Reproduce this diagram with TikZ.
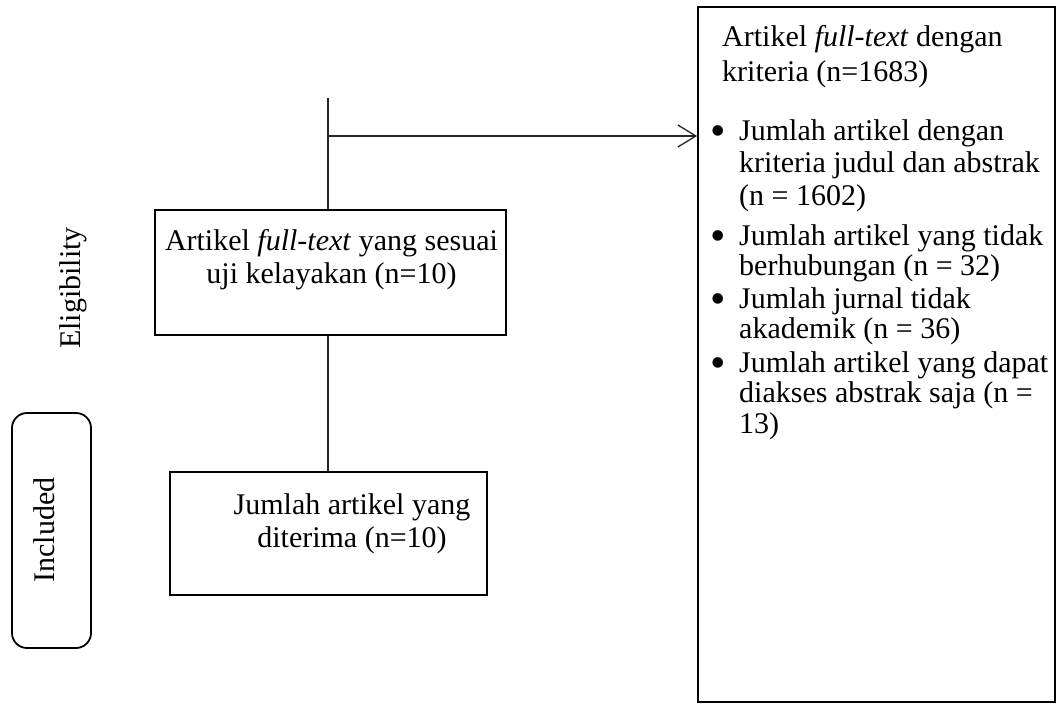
\documentclass[tikz,border=0pt]{standalone}
\usepackage{fontspec}
\setmainfont{Liberation Serif}
\usetikzlibrary{arrows.meta}
\begin{document}
\begin{tikzpicture}[x=1pt,y=-1pt,
  every node/.style={font=\fontsize{30}{33}\selectfont},
  box/.style={draw, line width=1.8pt, rectangle, inner sep=0pt},
  conn/.style={line width=1.3pt, draw=black!85},
  txt/.style={anchor=base, inner sep=0pt},
  ltxt/.style={anchor=base west, inner sep=0pt},
  bul/.style={anchor=base, inner sep=0pt, font=\fontsize{44}{44}\selectfont}]
\useasboundingbox (0,0) rectangle (1060,704);
% boxes
\node[box, minimum width=351pt, minimum height=125pt] (b1) at (330.5,272.5) {};
\node[box, minimum width=317pt, minimum height=123pt] (b2) at (328.5,533.5) {};
\node[box, minimum width=357pt, minimum height=695pt] (b3) at (876.5,354.5) {};
\node[box, rounded corners=15pt, minimum width=79pt, minimum height=235pt] (inc) at (51.5,530.5) {};
% texts
\node[txt] (t1) at (331.5,250) {\begin{tabular}[t]{@{}c@{}}Artikel \textit{full-text} yang sesuai\\uji kelayakan (n=10)\end{tabular}};
\node[txt] (t2) at (352,514) {\begin{tabular}[t]{@{}c@{}}Jumlah artikel yang\\diterima (n=10)\end{tabular}};
\node[ltxt] (t3) at (722,46) {\fontsize{30}{35}\selectfont\begin{tabular}[t]{@{}l@{}}Artikel \textit{full-text} dengan\\kriteria (n=1683)\end{tabular}};
\node[bul] (bu1) at (718,145) {\textbullet};
\node[ltxt] (i1) at (739,140) {\fontsize{30}{32.5}\selectfont\begin{tabular}[t]{@{}l@{}}Jumlah artikel dengan\\kriteria judul dan abstrak\\(n = 1602)\end{tabular}};
\node[bul] (bu2) at (718,250) {\textbullet};
\node[ltxt] (i2) at (739,245) {\fontsize{30}{30.5}\selectfont\begin{tabular}[t]{@{}l@{}}Jumlah artikel yang tidak\\berhubungan (n = 32)\end{tabular}};
\node[bul] (bu3) at (718,313) {\textbullet};
\node[ltxt] (i3) at (739,308) {\fontsize{30}{30.5}\selectfont\begin{tabular}[t]{@{}l@{}}Jumlah jurnal tidak\\akademik (n = 36)\end{tabular}};
\node[bul] (bu4) at (718,377) {\textbullet};
\node[ltxt] (i4) at (739,372) {\fontsize{30}{30.5}\selectfont\begin{tabular}[t]{@{}l@{}}Jumlah artikel yang dapat\\diakses abstrak saja (n =\\13)\end{tabular}};
\node[txt, rotate=90] (elig) at (80,288) {Eligibility};
\node[txt, rotate=90] (incl) at (54,530) {Included};
% connectors
\coordinate (top) at (328,98);
\coordinate (jn) at (328,136);
\draw[conn] (top) -- (top |- b1.north);
\draw[conn, -{Straight Barb[length=18pt,width=22pt,line width=1.3pt]}] (jn) -- (jn -| b3.west);
\draw[conn] (top |- b1.south) -- (top |- b2.north);
\end{tikzpicture}
\end{document}
